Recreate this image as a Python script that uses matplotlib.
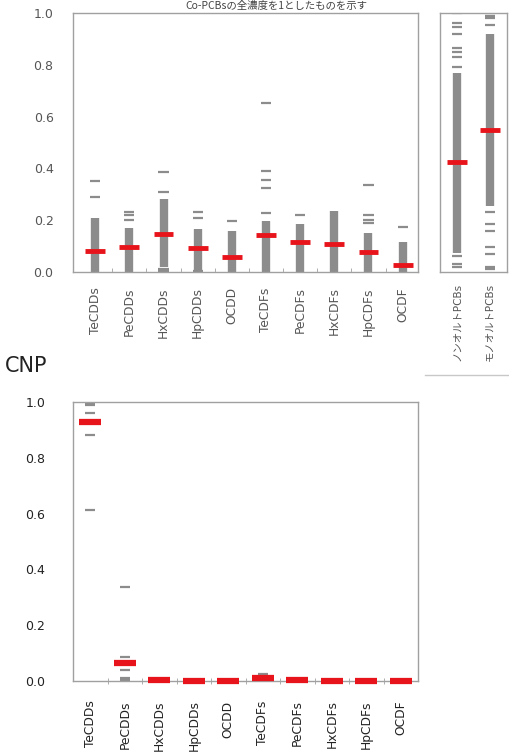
import matplotlib
matplotlib.use("Agg")
import matplotlib.pyplot as plt
from matplotlib.lines import Line2D

plt.rcParams['font.family'] = ['DejaVu Sans', 'Noto Sans CJK JP']

# ---------------------------------------------------------------------------
# data
# ---------------------------------------------------------------------------
cats = ["TeCDDs", "PeCDDs", "HxCDDs", "HpCDDs", "OCDD",
        "TeCDFs", "PeCDFs", "HxCDFs", "HpCDFs", "OCDF"]

# upper panel: dense band of sample dashes (lo..hi), isolated dashes, mean
top_band_lo = [0.0, 0.0, 0.02, 0.0, 0.0, 0.0, 0.0, 0.0, 0.0, 0.0]
top_band_hi = [0.21, 0.17, 0.28, 0.165, 0.16, 0.195, 0.187, 0.234, 0.152, 0.114]
top_dashes = [[0.29, 0.35],
              [0.20, 0.22, 0.23],
              [0.31, 0.385, 0.012, 0.004],
              [0.21, 0.23, 0.004],
              [0.195],
              [0.226, 0.323, 0.355, 0.389, 0.654],
              [0.22],
              [],
              [0.19, 0.20, 0.22, 0.337],
              [0.174]]
top_mean = [0.08, 0.097, 0.148, 0.094, 0.058, 0.142, 0.116, 0.11, 0.078, 0.026]

pcb_cats = ["ノンオルトPCBs", "モノオルトPCBs"]
pcb_band_lo = [0.075, 0.255]
pcb_band_hi = [0.77, 0.92]
pcb_dashes = [[1.0, 0.96, 0.945, 0.92, 0.865, 0.85, 0.83, 0.79, 0.06, 0.03, 0.02],
              [1.0, 0.99, 0.98, 0.955, 0.23, 0.185, 0.16, 0.097, 0.07, 0.02, 0.01]]
pcb_mean = [0.425, 0.55]

# CNP panel: only isolated dashes + mean
cnp_dashes = [[0.998, 0.99, 0.96, 0.88, 0.614],
              [0.338, 0.086, 0.038, 0.012, 0.004],
              [0.005, 0.002],
              [0.0],
              [0.0],
              [0.026, 0.012],
              [0.006],
              [0.0],
              [0.0],
              [0.0]]
cnp_mean = [0.927, 0.066, 0.004, 0.001, 0.001, 0.01, 0.004, 0.001, 0.001, 0.001]

yticks = [0.0, 0.2, 0.4, 0.6, 0.8, 1.0]

GRAY = "#8c8c8c"
RED = "#e8141c"
SPINE = "#a0a0a0"

W, H = 509, 753
fig = plt.figure(figsize=(W / 100, H / 100), dpi=100)


def px_axes(x0, x1, ytop, ybot):
    return fig.add_axes([x0 / W, 1 - ybot / H, (x1 - x0) / W, (ybot - ytop) / H])


def style(ax, labelcolor):
    for s in ax.spines.values():
        s.set_color(SPINE)
        s.set_linewidth(1.0)
    ax.set_ylim(0, 1.0)
    ax.tick_params(axis="y", length=0, pad=14, labelsize=9, labelcolor=labelcolor)
    ax.tick_params(axis="x", length=0, pad=11, labelsize=8.8, labelcolor=labelcolor)


def draw_column(ax, x, lo, hi, dashes, mean, bw, dw, mw, mlw):
    if hi is not None:
        ax.vlines(x, lo, hi, color=GRAY, lw=bw, zorder=2)
    if dashes:
        ax.hlines(dashes, x - dw / 2, x + dw / 2, color=GRAY, lw=1.6, zorder=2)
    ax.hlines(mean, x - mw / 2, x + mw / 2, color=RED, lw=mlw, zorder=3,
              clip_on=False)


# --- upper main panel ----------------------------------------------------
ax1 = px_axes(73, 418, 13, 272)
style(ax1, "#555555")
for i in range(len(cats)):
    draw_column(ax1, i, top_band_lo[i], top_band_hi[i], top_dashes[i],
                top_mean[i], 6, 0.3, 0.58, 3.5)
ax1.set_xlim(-0.65, 9.45)
ax1.set_xticks(range(len(cats)))
ax1.set_xticklabels(cats, rotation=90, va="top")
ax1.set_xticks([i + 0.5 for i in range(len(cats) - 1)], minor=True)
ax1.tick_params(axis="x", which="minor", direction="in", length=3, color=SPINE)
ax1.set_yticks(yticks)
ax1.set_yticklabels([f"{v:.1f}" for v in yticks])

# --- upper right PCB panel -----------------------------------------------
ax2 = px_axes(440, 507, 13, 272)
style(ax2, "#555555")
for i in range(len(pcb_cats)):
    draw_column(ax2, i, pcb_band_lo[i], pcb_band_hi[i], pcb_dashes[i],
                pcb_mean[i], 6, 0.3, 0.62, 3.5)
ax2.set_xlim(-0.52, 1.52)
ax2.set_xticks(range(len(pcb_cats)))
ax2.set_xticklabels(pcb_cats, rotation=90, va="top", fontsize=7.5)
ax2.tick_params(axis="x", pad=8)
ax2.set_yticks([])

fig.text(276 / W, 1 - 6 / H, "Co-PCBsの全濃度を1としたものを示す",
         ha="center", va="center", fontsize=7.5, color="#444444",
         family=["Noto Sans CJK JP", "DejaVu Sans"])
fig.add_artist(Line2D([425 / W, 1.0], [1 - 375 / H, 1 - 375 / H],
                      color="#c8c8c8", lw=1.0))

# --- CNP panel -------------------------------------------------------------
fig.text(5 / W, 1 - 366 / H, "CNP", ha="left", va="center", fontsize=15,
         color="#222222")
ax3 = px_axes(73, 418, 402, 681)
style(ax3, "#222222")
for i in range(len(cats)):
    draw_column(ax3, i, None, None, cnp_dashes[i], cnp_mean[i],
                6, 0.3, 0.64, 4.5)
ax3.set_xlim(-0.5, 9.5)
ax3.set_xticks(range(len(cats)))
ax3.set_xticklabels(cats, rotation=90, va="top")
ax3.tick_params(axis="x", pad=14)
ax3.set_xticks([i + 0.5 for i in range(len(cats) - 1)], minor=True)
ax3.tick_params(axis="x", which="minor", direction="inout", length=4, color=SPINE)
ax3.set_yticks(yticks)
ax3.set_yticklabels([f"{v:.1f}" for v in yticks])
ax3.tick_params(axis="y", pad=20)

fig.savefig("out.png", dpi=100)
